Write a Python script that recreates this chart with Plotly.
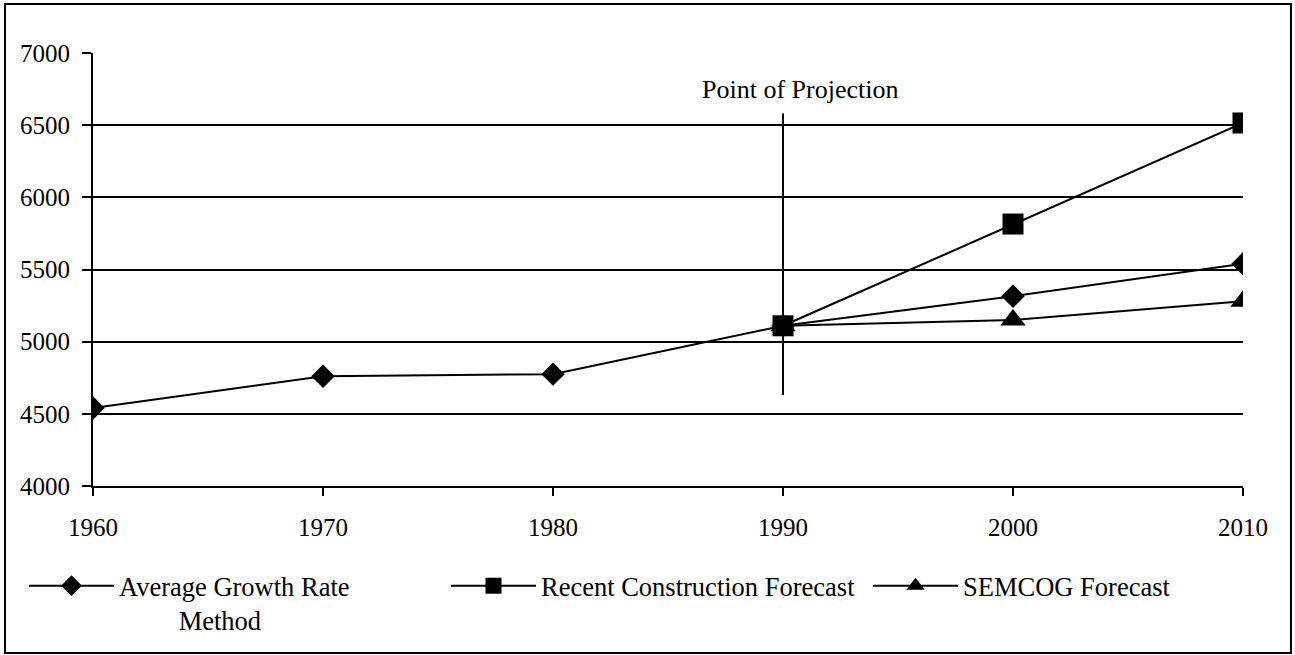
import plotly.graph_objects as go

# Population history and projections
years_hist = [1960, 1970, 1980, 1990, 2000, 2010]
avg_growth = [4540, 4760, 4775, 5110, 5315, 5540]

years_proj = [1990, 2000, 2010]
recent_construction = [5110, 5815, 6515]
semcog = [5110, 5150, 5280]

y_ticks = [4000, 4500, 5000, 5500, 6000, 6500, 7000]
x_ticks = [1960, 1970, 1980, 1990, 2000, 2010]

projection_year = 1990
projection_span = [4630, 6580]

FONT = "Liberation Serif, Times New Roman, serif"
INDENT = "\u00a0" * 9

fig = go.Figure()

fig.add_trace(go.Scatter(
    x=years_hist, y=avg_growth, mode="lines+markers",
    name="Average Growth Rate<br>" + INDENT + "Method",
    legendwidth=322,
    line=dict(color="black", width=2),
    marker=dict(symbol="diamond", size=18, color="black"),
))
fig.add_trace(go.Scatter(
    x=years_proj, y=recent_construction, mode="lines+markers",
    name="Recent Construction Forecast",
    legendwidth=322,
    line=dict(color="black", width=2),
    marker=dict(symbol="square", size=21, color="black"),
))
fig.add_trace(go.Scatter(
    x=years_proj, y=semcog, mode="lines+markers",
    name="SEMCOG Forecast",
    legendwidth=220,
    line=dict(color="black", width=2),
    marker=dict(symbol="triangle-up", size=22, color="black"),
))

# Vertical marker at the projection year
fig.add_shape(type="line", xref="x", yref="y",
              x0=projection_year, x1=projection_year,
              y0=projection_span[0], y1=projection_span[1],
              line=dict(color="black", width=2))
fig.add_annotation(x=projection_year, y=6745, xref="x", yref="y",
                   text="Point of Projection", showarrow=False,
                   xshift=17, font=dict(family=FONT, size=26, color="black"))

# Outer frame around the whole chart
fig.add_shape(type="rect", xref="paper", yref="paper",
              x0=-0.0765, x1=1.0417, y0=-0.3857, y1=1.1132,
              line=dict(color="black", width=2), layer="below")

fig.update_layout(
    width=1295, height=655,
    margin=dict(l=93, r=52, t=53, b=169, autoexpand=False),
    paper_bgcolor="white", plot_bgcolor="white",
    font=dict(family=FONT, size=25, color="black"),
    showlegend=True,
    legend=dict(orientation="h", x=-0.06, y=-0.1755, xanchor="left", yanchor="top",
                itemwidth=85, valign="top",
                font=dict(family=FONT, size=26.5, color="black"),
                bgcolor="rgba(0,0,0,0)", itemclick=False),
    xaxis=dict(range=[1960, 2010], tickvals=x_ticks, showgrid=False,
               showline=True, linecolor="black", linewidth=2,
               ticks="outside", ticklen=8, tickwidth=2, tickcolor="black",
               ticklabelstandoff=10, zeroline=False),
    yaxis=dict(range=[4000, 7000], tickvals=y_ticks, showgrid=True,
               gridcolor="black", gridwidth=2,
               showline=True, linecolor="black", linewidth=2,
               ticks="outside", ticklen=9, tickwidth=2, tickcolor="black",
               ticklabelstandoff=7, zeroline=False),
)

fig.write_html("out.html")
